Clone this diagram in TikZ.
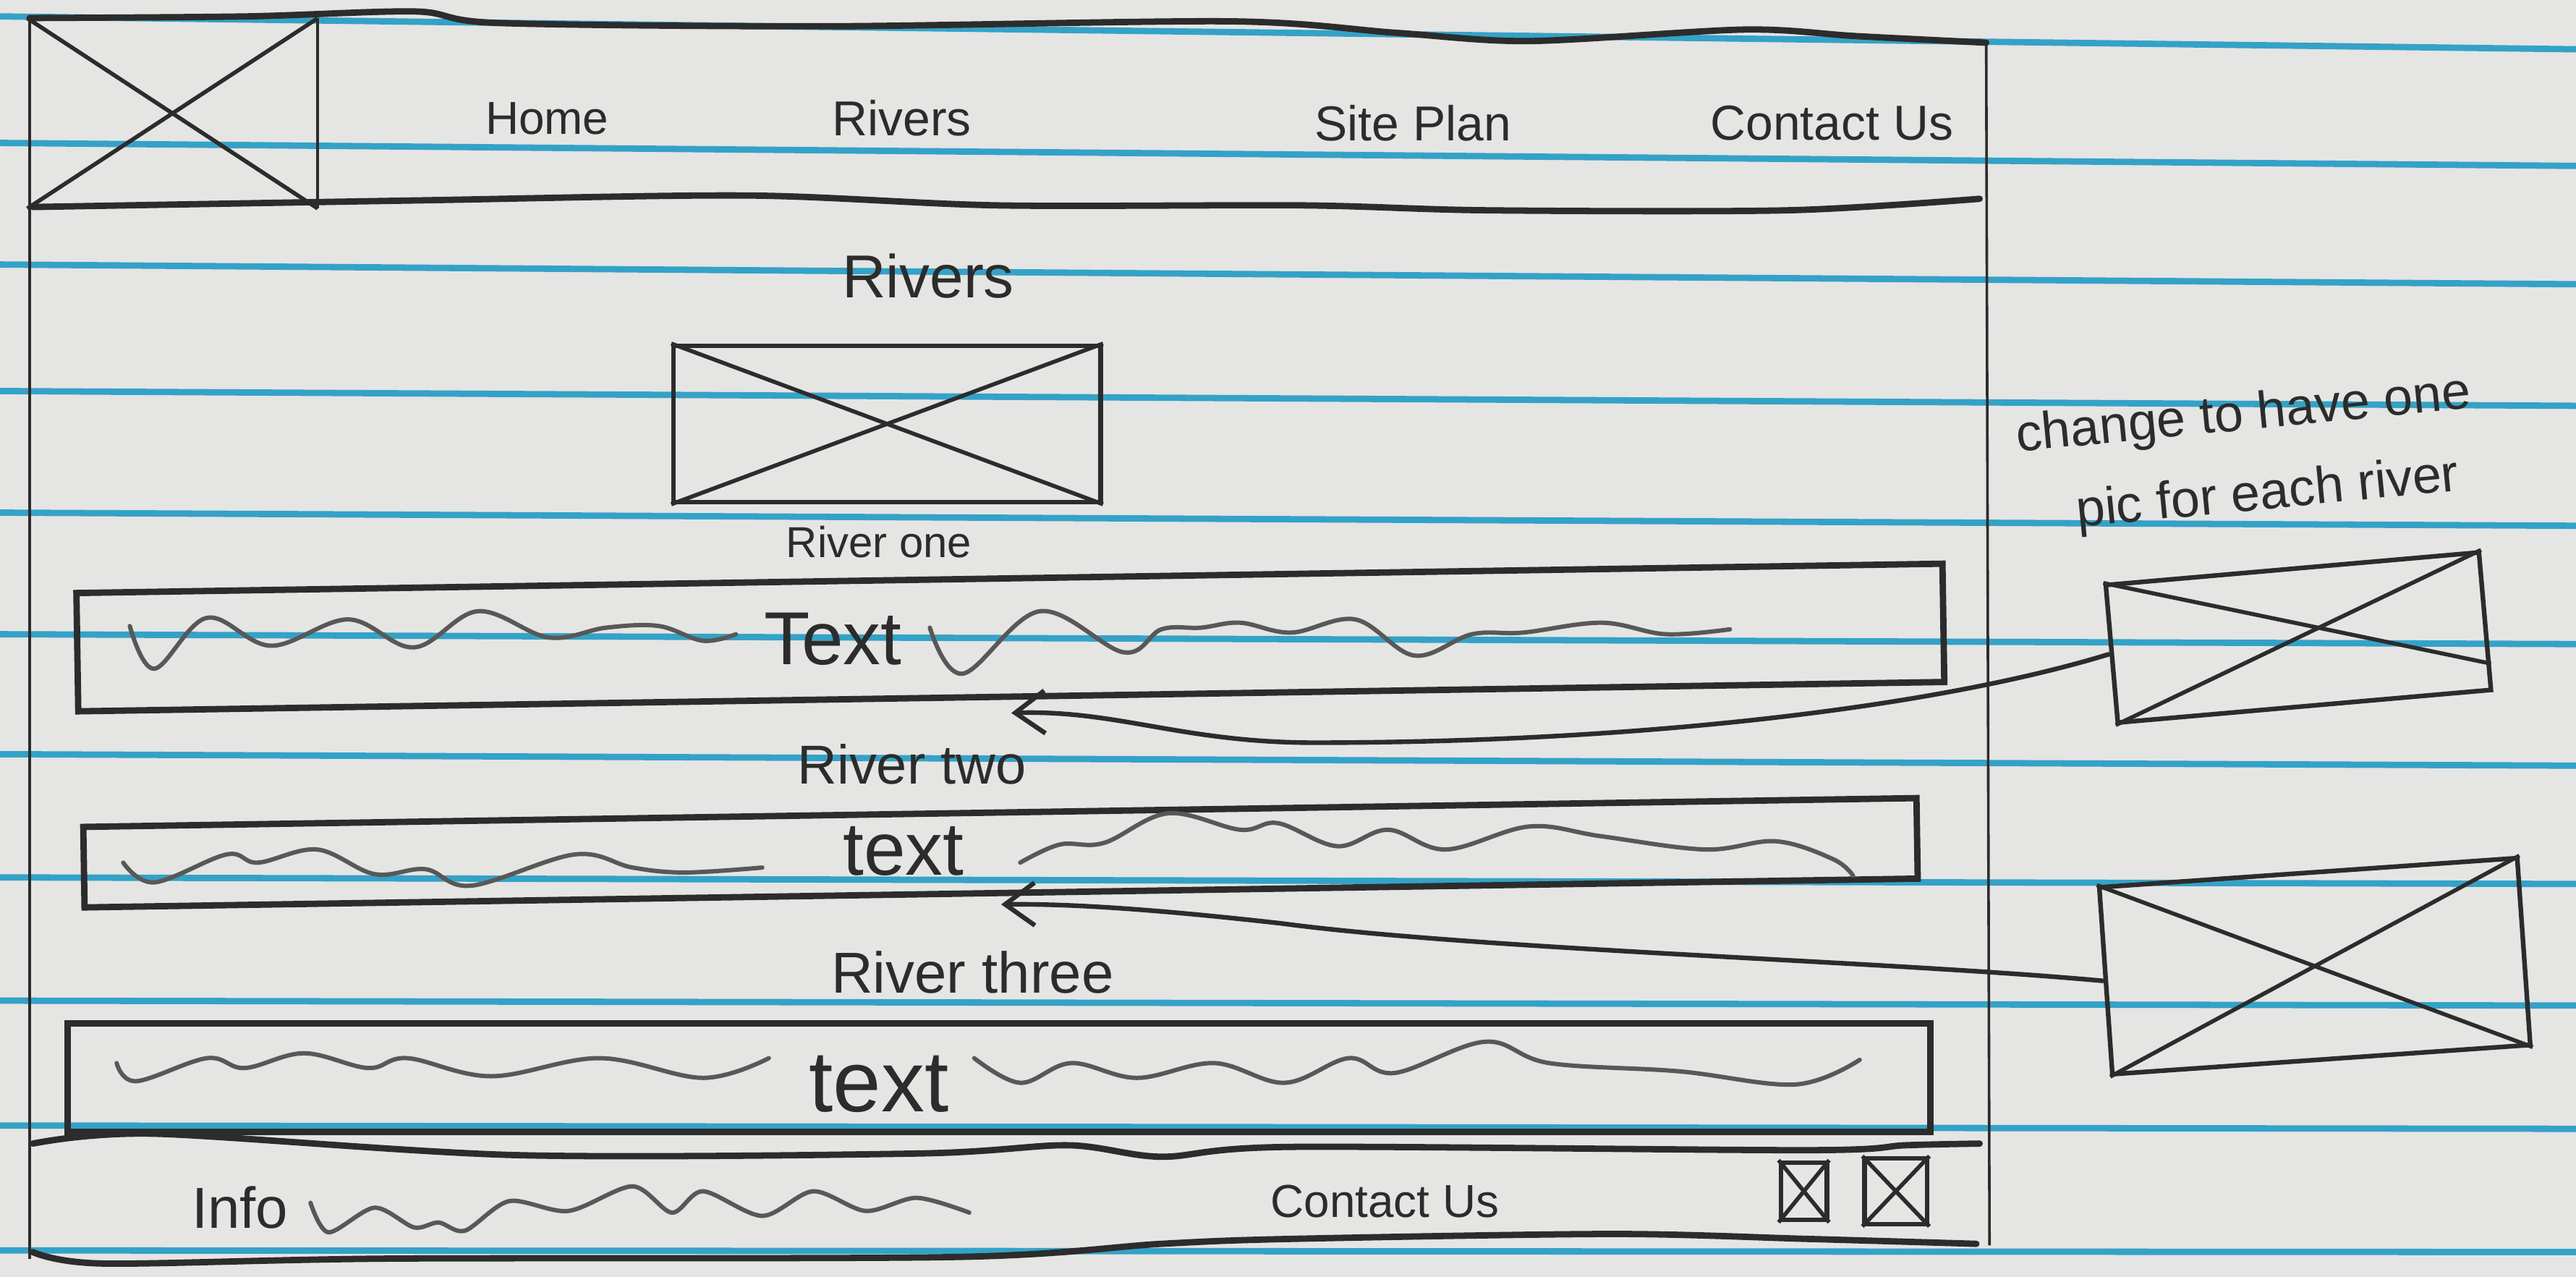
\documentclass[tikz,border=0pt]{standalone}
\usepackage{fontspec}
\setmainfont{Liberation Sans}
\usepackage{tikz}
\usetikzlibrary{arrows.meta}
\usetikzlibrary{calc}
\definecolor{paper}{RGB}{229, 229, 227}
\definecolor{ruling}{RGB}{52, 162, 198}
\definecolor{pencil}{RGB}{44, 44, 44}
\definecolor{smudge}{RGB}{88, 88, 88}
\newcommand{\pen}[1]{\fontsize{#1}{#1}\selectfont}

\begin{document}
\begin{tikzpicture}[x=0.1mm,y=-0.1mm,
    heavy/.style={pencil,line width=1.1pt,line cap=round,line join=round},
    light/.style={pencil,line width=0.45pt},
    picbox/.style={draw=pencil,line width=0.8pt,rectangle,inner sep=0pt},
    barbox/.style={draw=pencil,line width=1.1pt,rectangle,inner sep=0pt},
    cross/.style={pencil,line width=0.7pt},
    squiggle/.style={smudge,line width=0.75pt,line cap=round},
    hand/.style={inner sep=0pt,text=pencil},
    notearrow/.style={pencil,line width=0.8pt,-{Straight Barb[length=1.8mm,width=2.6mm]}}]
  \fill[paper] (0,0) rectangle (1568,777);
  \useasboundingbox (0,0) rectangle (1568,777);
  \foreach \l/\r in {10/30,87/101,161/173,238/247,312/320,386/392,459/466,534/538,609/612,685/687,761/762}
    \draw[ruling,line width=1.1pt] (0,\l) -- (1568,\r);

  % page frame
  \draw[light] (18,12) -- (18,766);
  \draw[light] (1209,26) -- (1211,758);
  \draw[heavy] plot[smooth,tension=0.5] coordinates {(18,11) (150,10) (253,7) (303,14) (505,16) (749,13) (850,20) (931,25) (1062,18) (1130,22) (1209,26)};
  \draw[heavy] plot[smooth,tension=0.5] coordinates {(20,126) (253,122) (455,119) (607,125) (793,125) (905,128) (1088,128) (1205,121)};
  \draw[heavy] plot[smooth,tension=0.5] coordinates {(20,696) (94,690) (314,703) (560,702) (650,697) (707,704) (786,698) (1100,700) (1160,697) (1205,696)};
  \draw[heavy] plot[smooth,tension=0.5] coordinates {(20,762) (63,769) (236,766) (582,765) (707,757) (786,754) (982,751) (1100,754) (1203,757)};

  % header
  \node[picbox,draw=none,minimum width=17.4mm,minimum height=11.3mm] (logo) at (105,69) {};
  \draw[light] (logo.north east) -- (logo.south east);
  \draw[cross] (logo.north west) -- (logo.south east) (logo.south west) -- (logo.north east);
  \node[hand,font=\pen{8}] (navhome) at (333,72) {Home};
  \node[hand,font=\pen{8.5}] (navrivers) at (549,72) {Rivers};
  \node[hand,font=\pen{8.5}] (navplan) at (860,75) {Site Plan};
  \node[hand,font=\pen{8.5}] (navcontact) at (1115,75) {Contact Us};

  % body
  \node[hand,font=\pen{10.5}] (heading) at (565,168) {Rivers};
  \node[picbox,minimum width=26mm,minimum height=9.5mm] (mainpic) at (540,258) {};
  \draw[cross] (mainpic.north west) -- (mainpic.south east) (mainpic.south west) -- (mainpic.north east);
  \node[hand,font=\pen{7.5}] (riverone) at (535,330) {River one};

  \node[barbox,minimum width=113.6mm,minimum height=7.2mm,rotate=0.9] (barone) at (615,388) {};
  \node[hand,font=\pen{13}] (textone) at (507,389) {Text};
  \draw[squiggle] plot[smooth,tension=0.6] coordinates {(79,381) (94,407) (126,376) (165,393) (212,377) (252,394) (291,372) (334,388) (369,382) (401,381) (428,390) (448,386)};
  \draw[squiggle] plot[smooth,tension=0.6] coordinates {(566,382) (586,410) (633,372) (684,397) (707,383) (731,382) (755,379) (786,385) (825,377) (861,399) (896,386) (927,385) (975,379) (1014,386) (1053,383)};

  \node[hand,font=\pen{9.5}] (rivertwo) at (555,465) {River two};
  \node[barbox,minimum width=111.6mm,minimum height=4.9mm,rotate=0.9] (bartwo) at (609,519) {};
  \node[hand,font=\pen{13}] (texttwo) at (550,518) {text};
  \draw[squiggle] plot[smooth,tension=0.6] coordinates {(75,525) (94,537) (138,520) (157,525) (193,517) (228,532) (259,529) (287,539) (350,520) (385,528) (417,531) (464,528)};
  \draw[squiggle] plot[smooth,tension=0.6] coordinates {(621,525) (645,514) (672,513) (711,495) (755,505) (778,501) (814,515) (845,505) (880,517) (931,503) (975,509) (1038,517) (1081,512) (1116,523) (1128,533)};

  \node[hand,font=\pen{10}] (riverthree) at (592,592) {River three};
  \node[barbox,minimum width=113.4mm,minimum height=6.6mm] (barthree) at (608,656) {};
  \node[hand,font=\pen{15}] (textthree) at (535,660) {text};
  \draw[squiggle] plot[smooth,tension=0.6] coordinates {(71,647) (83,658) (126,644) (149,650) (185,641) (224,650) (248,644) (299,655) (365,644) (428,656) (468,644)};
  \draw[squiggle] plot[smooth,tension=0.6] coordinates {(593,644) (621,659) (652,647) (692,656) (739,647) (782,659) (821,644) (849,653) (904,634) (943,647) (1022,652) (1093,660) (1132,645)};

  % footer
  \node[hand,font=\pen{10}] (info) at (146,735) {Info};
  \draw[squiggle] plot[smooth,tension=0.5] coordinates {(189,732) (200,750) (228,735) (252,747) (267,744) (283,749) (310,731) (346,737) (385,722) (409,738) (428,725) (464,740) (495,725) (527,737) (558,729) (590,738)};
  \node[hand,font=\pen{8}] (footcontact) at (843,731) {Contact Us};
  \node[picbox,minimum width=2.8mm,minimum height=3.5mm] (iconone) at (1098,725) {};
  \node[picbox,minimum width=3.8mm,minimum height=4mm] (icontwo) at (1154,725) {};
  \foreach \n in {iconone,icontwo}
    \draw[cross] (\n.north west) -- (\n.south east) (\n.south west) -- (\n.north east);

  % margin note
  \node[hand,font=\fontsize{9}{14}\selectfont,align=center,rotate=5.5] (note) at (1368,278) {change to have one\\\hspace*{2mm}pic for each river};
  \node[picbox,minimum width=22.8mm,minimum height=8.4mm,rotate=5] (pica) at (1399,388) {};
  \draw[cross] (pica.north west) -- ($(pica.east)!0.6!(pica.south east)$) (pica.south west) -- (pica.north east);
  \node[picbox,minimum width=25.5mm,minimum height=11.4mm,rotate=4] (picb) at (1409,588) {};
  \draw[cross] (picb.north west) -- (picb.south east) (picb.south west) -- (picb.north east);

  \draw[notearrow] (pica.west) .. controls (1180,430) and (1000,452) .. (800,452) .. controls (720,452) and (680,432) .. ([yshift=-0.8mm]barone.south);
  \draw[notearrow] (picb.west) .. controls (1150,585) and (900,578) .. (780,562) .. controls (700,553) and (650,550) .. ([yshift=-0.5mm]bartwo.south);
\end{tikzpicture}
\end{document}
